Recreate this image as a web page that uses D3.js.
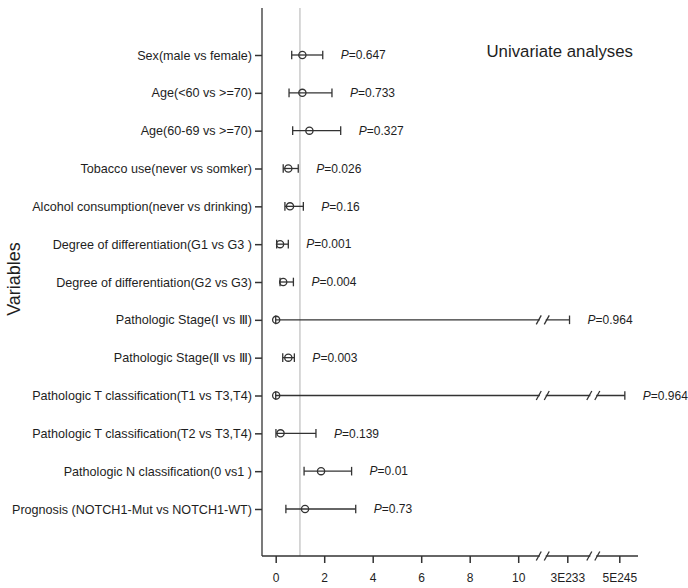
<!DOCTYPE html>
<html>
<head>
<meta charset="utf-8">
<script src="https://cdn.jsdelivr.net/npm/d3@7"></script>
<style>
  body { margin: 0; background: #fff; }
  text { font-family: "Liberation Sans", Arial, Helvetica, sans-serif; fill: #1e1e1e; }
</style>
</head>
<body>
<svg id="chart" width="688" height="588"></svg>
<script>
// Univariate hazard ratios with 95% confidence intervals
const variables = [
  "Sex(male vs female)",
  "Age(<60 vs >=70)",
  "Age(60-69 vs >=70)",
  "Tobacco use(never vs somker)",
  "Alcohol consumption(never vs drinking)",
  "Degree of differentiation(G1 vs G3 )",
  "Degree of differentiation(G2 vs G3)",
  "Pathologic Stage(\u2160 vs \u2162)",
  "Pathologic Stage(\u2161 vs \u2162)",
  "Pathologic T classification(T1 vs T3,T4)",
  "Pathologic T classification(T2 vs T3,T4)",
  "Pathologic N classification(0 vs1 )",
  "Prognosis (NOTCH1-Mut vs NOTCH1-WT)"
];
const hazardRatio = [1.10, 1.10, 1.39, 0.52, 0.59, 0.18, 0.31, 0.02, 0.52, 0.02, 0.20, 1.87, 1.21];
const ciLower     = [0.66, 0.55, 0.70, 0.31, 0.38, 0.04, 0.18, 0.00, 0.29, 0.00, 0.01, 1.17, 0.42];
const ciUpper     = [1.94, 2.32, 2.68, 0.93, 1.14, 0.52, 0.73, 1e234, 0.77, 1e247, 1.66, 3.13, 3.30];
const pValues     = ["0.647", "0.733", "0.327", "0.026", "0.16", "0.001", "0.004",
                     "0.964", "0.003", "0.964", "0.139", "0.01", "0.73"];
const lowTicks    = [0, 2, 4, 6, 8, 10];
const highTicks   = [3e233, 5e245];
const highTickLabels = ["3E233", "5E245"];
const referenceValue = 1;

const rows = variables.map((v, i) => ({
  name: v, hr: hazardRatio[i], lo: ciLower[i], hi: ciUpper[i], p: pValues[i]
}));

const svg = d3.select("#chart");
const ink = "#333";

const axisX = 262, axisTop = 8, axisBottom = 556, axisRight = 638;

// Broken horizontal scale: linear up to 10, then a compressed log segment
const xLow = d3.scaleLinear().domain([0, 10]).range([275.7, 518.2]);
const xHigh = d3.scaleLog().domain(highTicks).range([567.3, 619.3]);
const x = v => (v <= 10 ? xLow(v) : xHigh(v));
const breaks = [
  (xLow(10) + xHigh(highTicks[0])) / 2,
  (xHigh(highTicks[0]) + xHigh(highTicks[1])) / 2
];

const y = d3.scalePoint().domain(variables).range([55, 509]);

// Reference line at HR = 1
svg.append("line")
  .attr("x1", x(referenceValue)).attr("x2", x(referenceValue))
  .attr("y1", axisTop).attr("y2", axisBottom)
  .attr("stroke", "#bdbdbd").attr("stroke-width", 1.2);

// Axis lines
svg.append("line")
  .attr("x1", axisX).attr("x2", axisX).attr("y1", axisTop).attr("y2", axisBottom)
  .attr("stroke", ink).attr("stroke-width", 1.3);
svg.append("line")
  .attr("x1", axisX).attr("x2", axisRight).attr("y1", axisBottom).attr("y2", axisBottom)
  .attr("stroke", ink).attr("stroke-width", 1.3);

// Axis-break glyph: a short gap with two slanted strokes
function breakMark(g, cx, cy) {
  g.append("line")
    .attr("x1", cx - 3).attr("x2", cx + 3).attr("y1", cy).attr("y2", cy)
    .attr("stroke", "#fff").attr("stroke-width", 3);
  [-4, 4].forEach(d => {
    g.append("line")
      .attr("x1", cx + d - 2.5).attr("y1", cy + 4.5)
      .attr("x2", cx + d + 2.5).attr("y2", cy - 4.5)
      .attr("stroke", ink).attr("stroke-width", 1.3);
  });
}

// Bottom axis (two parts sharing one baseline)
function styleAxis(g) {
  g.select(".domain").remove();
  g.selectAll(".tick line").attr("stroke", ink).attr("stroke-width", 1.5);
  g.selectAll(".tick text").attr("font-size", 12).attr("fill", "#1e1e1e");
}
svg.append("g")
  .attr("transform", `translate(0,${axisBottom})`)
  .call(d3.axisBottom(xLow).tickValues(lowTicks).tickSize(7).tickPadding(10.5).tickFormat(d3.format("d")))
  .call(styleAxis);
svg.append("g")
  .attr("transform", `translate(0,${axisBottom})`)
  .call(d3.axisBottom(xHigh).tickValues(highTicks).tickSize(7).tickPadding(10.5)
        .tickFormat((d, i) => highTickLabels[i]))
  .call(styleAxis);
const axisBreaks = svg.append("g");
breaks.forEach(b => breakMark(axisBreaks, b, axisBottom));

// Left axis with category labels
svg.append("g")
  .attr("transform", `translate(${axisX},0)`)
  .call(d3.axisLeft(y).tickSize(7).tickPadding(3))
  .call(g => {
    g.select(".domain").remove();
    g.selectAll(".tick line").attr("stroke", ink).attr("stroke-width", 1.5);
    g.selectAll(".tick text").attr("font-size", 12.6).attr("fill", "#1e1e1e");
  });

// Axis title
svg.append("text")
  .attr("transform", `translate(20,279) rotate(-90)`)
  .attr("text-anchor", "middle")
  .attr("font-size", 18)
  .text("Variables");

// Chart title
svg.append("text")
  .attr("x", 486.5).attr("y", 57)
  .attr("font-size", 16.8)
  .text("Univariate analyses");

// Confidence interval bars, caps and point estimates
const marks = svg.append("g");
rows.forEach(r => {
  const cy = y(r.name);
  const g = marks.append("g");
  g.append("line")
    .attr("x1", x(r.lo)).attr("x2", x(r.hi)).attr("y1", cy).attr("y2", cy)
    .attr("stroke", ink).attr("stroke-width", 1.3);
  [r.lo, r.hi].forEach(v => {
    g.append("line")
      .attr("x1", x(v)).attr("x2", x(v)).attr("y1", cy - 4.3).attr("y2", cy + 4.3)
      .attr("stroke", ink).attr("stroke-width", 1.3);
  });
  breaks.filter(b => b > x(r.lo) && b < x(r.hi)).forEach(b => breakMark(g, b, cy));
  g.append("circle")
    .attr("cx", x(r.hr)).attr("cy", cy).attr("r", 3.6)
    .attr("fill", "none").attr("stroke", ink).attr("stroke-width", 1.3);
  const t = g.append("text")
    .attr("x", x(r.hi) + 18).attr("y", cy + 4.3)
    .attr("font-size", 12);
  t.append("tspan").attr("font-style", "italic").text("P");
  t.append("tspan").text("=" + r.p);
});
</script>
</body>
</html>
